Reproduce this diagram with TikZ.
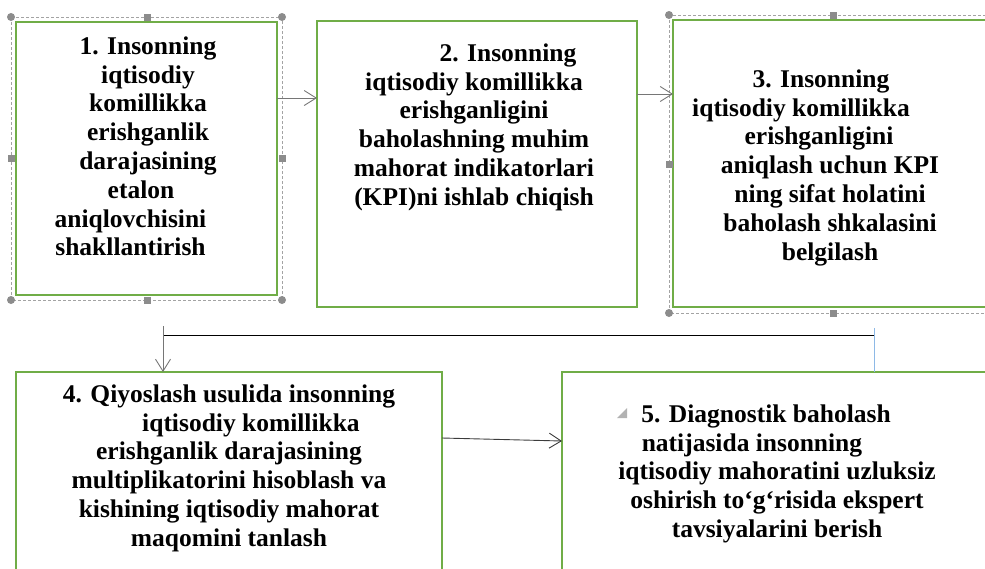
\documentclass[tikz,border=0pt]{standalone}
\usepackage{fontspec}
\setmainfont{Liberation Serif}
\usetikzlibrary{arrows.meta}
\definecolor{boxgreen}{RGB}{112,173,71}
\definecolor{handlegrey}{RGB}{140,140,140}
\definecolor{conngrey}{RGB}{118,118,118}
\definecolor{conndark}{RGB}{60,60,60}
\definecolor{bluel}{RGB}{142,185,230}
\newcommand\padx[1]{\rule{#1}{0pt}}
\newcommand\fstrut{\rule{0pt}{23pt}}
\begin{document}
\begin{tikzpicture}[x=1pt,y=-1pt,
  stepbox/.style={draw=boxgreen, line width=1.8pt, rectangle, inner sep=0pt, outer sep=0pt},
  txt/.style={font=\fontsize{25.5}{28.8}\selectfont\bfseries, align=center, inner sep=0pt, anchor=north},
  conn/.style={draw=conngrey, line width=0.9pt, -{Straight Barb[length=12pt,width=15pt]}},
  conndk/.style={draw=conndark, line width=0.9pt, -{Straight Barb[length=12pt,width=15pt]}},
  selframe/.style={draw=handlegrey!80, line width=0.8pt, dash pattern=on 3pt off 2pt},
  hcircle/.style={circle, fill=handlegrey, minimum size=8pt, inner sep=0pt},
  hsquare/.style={rectangle, fill=handlegrey, minimum size=7pt, inner sep=0pt}
]
\useasboundingbox (0,0) rectangle (985,568);
\clip (0,0) rectangle (985,568);

% selection frames (Word handles)
\draw[selframe] (11,17) rectangle (282,300);
\draw[selframe] (669,15) rectangle (997,313);

% boxes
\node[stepbox, minimum width=261pt, minimum height=273pt] (b1) at (146.5,158.5) {};
\node[stepbox, minimum width=320pt, minimum height=286pt] (b2) at (477,164) {};
\node[stepbox, minimum width=319pt, minimum height=287pt] (b3) at (832.5,163.5) {};
\node[stepbox, minimum width=426pt, minimum height=218pt] (b4) at (229,481) {};
\node[stepbox, minimum width=430pt, minimum height=218pt] (b5) at (777,481) {};

% handles
\node[hcircle] (h1a) at (11,17) {};
\node[hcircle] (h1b) at (282,17) {};
\node[hcircle] (h1c) at (11,300) {};
\node[hcircle] (h1d) at (282,300) {};
\node[hsquare] (h1e) at (147,17) {};
\node[hsquare] (h1f) at (147,300) {};
\node[hsquare] (h1g) at (11,158) {};
\node[hsquare] (h1h) at (282,158) {};
\node[hcircle] (h3a) at (669,15) {};
\node[hcircle] (h3b) at (669,313) {};
\node[hsquare] (h3c) at (833,15) {};
\node[hsquare] (h3d) at (833,313) {};
\node[hsquare] (h3e) at (669,164) {};

% texts
\node[txt] (t1) at (148,31) {\fstrut 1. Insonning\\iqtisodiy\\komillikka\\erishganlik\\darajasining\\etalon\padx{14pt}\\aniqlovchisini\padx{35pt}\\shakllantirish\padx{35pt}};
\node[txt] (t2) at (474,38) {\fstrut\padx{68pt}2. Insonning\\iqtisodiy komillikka\\erishganligini\\baholashning muhim\\mahorat indikatorlari\\(KPI)ni ishlab chiqish};
\node[txt] (t3) at (830,64) {\fstrut 3. Insonning\padx{18pt}\\iqtisodiy komillikka\padx{58pt}\\erishganligini\padx{22pt}\\aniqlash uchun KPI\\ning sifat holatini\\baholash shkalasini\\belgilash};
\node[txt] (t4) at (229,379) {\fstrut 4. Qiyoslash usulida insonning\\\padx{44pt}iqtisodiy komillikka\\erishganlik darajasining\\multiplikatorini hisoblash va\\kishining iqtisodiy mahorat\\maqomini tanlash};
\node[txt] (t5) at (777,399) {\fstrut 5. Diagnostik baholash\padx{22pt}\\natijasida insonning\padx{50pt}\\iqtisodiy mahoratini uzluksiz\\oshirish to‘g‘risida ekspert\\tavsiyalarini berish};

% paragraph marker
\fill[black!30] (627,408) -- (627,418) -- (617,418) -- cycle;

% connectors
\coordinate (y12) at (0,98);
\coordinate (y23) at (0,94);
\coordinate (hl) at (163,335);
\coordinate (hr) at (874,335);
\coordinate (vtop) at (0,326);
\coordinate (btop) at (0,328);
\coordinate (y45a) at (0,438);
\coordinate (y45b) at (0,441);
\draw[conn] (b1.east |- y12) -- (b2.west |- y12);
\draw[conn] (b2.east |- y23) -- (b3.west |- y23);
\draw[black, line width=0.9pt] (hl) -- (hr);
\draw[bluel, line width=1pt] (hr |- btop) -- (b5.north -| hr);
\draw[conn] (hl |- vtop) -- (b4.north -| hl);
\draw[conndk] (b4.east |- y45a) -- (b5.west |- y45b);
\end{tikzpicture}
\end{document}
